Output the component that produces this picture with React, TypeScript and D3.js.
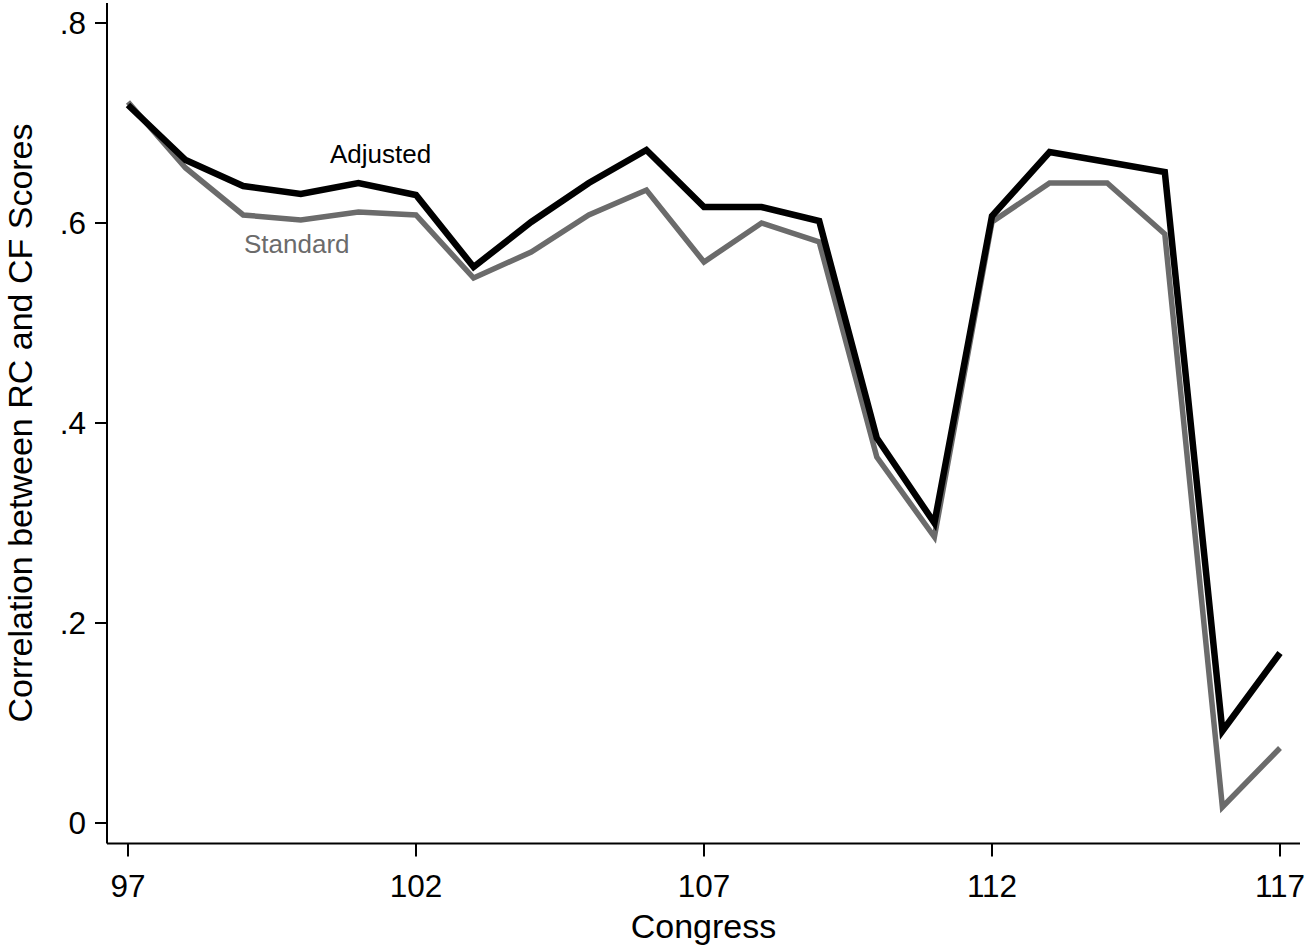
import React from "react";
import * as d3 from "d3";

const congresses = [97, 98, 99, 100, 101, 102, 103, 104, 105, 106, 107, 108, 109, 110, 111, 112, 113, 114, 115, 116, 117];
const adjusted = [0.718, 0.663, 0.637, 0.629, 0.640, 0.628, 0.556, 0.601, 0.640, 0.673, 0.616, 0.616, 0.602, 0.385, 0.300, 0.607, 0.671, 0.661, 0.651, 0.092, 0.170];
const standard = [0.721, 0.655, 0.608, 0.603, 0.611, 0.608, 0.545, 0.571, 0.608, 0.633, 0.561, 0.600, 0.581, 0.366, 0.286, 0.601, 0.640, 0.640, 0.589, 0.016, 0.075];
const xTicks = [97, 102, 107, 112, 117];
const yTicks = [0, 0.2, 0.4, 0.6, 0.8];
const yTickLabels = ["0", ".2", ".4", ".6", ".8"];

const W = 1308;
const H = 948;
const FONT = "'Liberation Sans', Arial, Helvetica, sans-serif";

export default function App() {
  const x = d3.scaleLinear().domain([97, 117]).range([128, 1280]);
  const y = d3.scaleLinear().domain([0, 0.8]).range([823, 23]);
  const axisX = 107;
  const axisY = 843.5;

  const line = d3
    .line<number>()
    .x((_, i) => x(congresses[i]))
    .y((d) => y(d));

  return (
    <svg
      width={W}
      height={H}
      style={{ position: "absolute", left: 0, top: 0, background: "#fff" }}
      fontFamily={FONT}
    >
      <rect x={0} y={0} width={W} height={H} fill="#fff" />
      {/* y axis */}
      <line x1={axisX} x2={axisX} y1={3} y2={axisY} stroke="#000" strokeWidth={2} />
      {yTicks.map((t, i) => (
        <g key={"yt" + t}>
          <line x1={axisX - 12} x2={axisX} y1={y(t)} y2={y(t)} stroke="#000" strokeWidth={2} />
          <text x={86} y={y(t)} dy="0.36em" textAnchor="end" fontSize={31.5} fill="#000">
            {yTickLabels[i]}
          </text>
        </g>
      ))}
      {/* x axis */}
      <line x1={axisX} x2={1300} y1={axisY} y2={axisY} stroke="#000" strokeWidth={2} />
      {xTicks.map((t) => (
        <g key={"xt" + t}>
          <line x1={x(t)} x2={x(t)} y1={axisY} y2={axisY + 13} stroke="#000" strokeWidth={2} />
          <text x={x(t)} y={897} textAnchor="middle" fontSize={31.5} fill="#000">
            {t}
          </text>
        </g>
      ))}
      {/* axis titles */}
      <text x={703.5} y={938} textAnchor="middle" fontSize={34} fill="#000">
        Congress
      </text>
      <text
        transform={`translate(32, ${y(0.4)}) rotate(-90)`}
        textAnchor="middle"
        fontSize={34}
        fill="#000"
      >
        Correlation between RC and CF Scores
      </text>
      {/* series */}
      <path d={line(standard) || ""} fill="none" stroke="#6b6b6b" strokeWidth={5.5} strokeLinejoin="miter" />
      <path d={line(adjusted) || ""} fill="none" stroke="#000" strokeWidth={6.5} strokeLinejoin="miter" />
      {/* labels */}
      <text x={330} y={163} fontSize={26} fill="#000">
        Adjusted
      </text>
      <text x={244} y={253} fontSize={26} fill="#6b6b6b">
        Standard
      </text>
    </svg>
  );
}
